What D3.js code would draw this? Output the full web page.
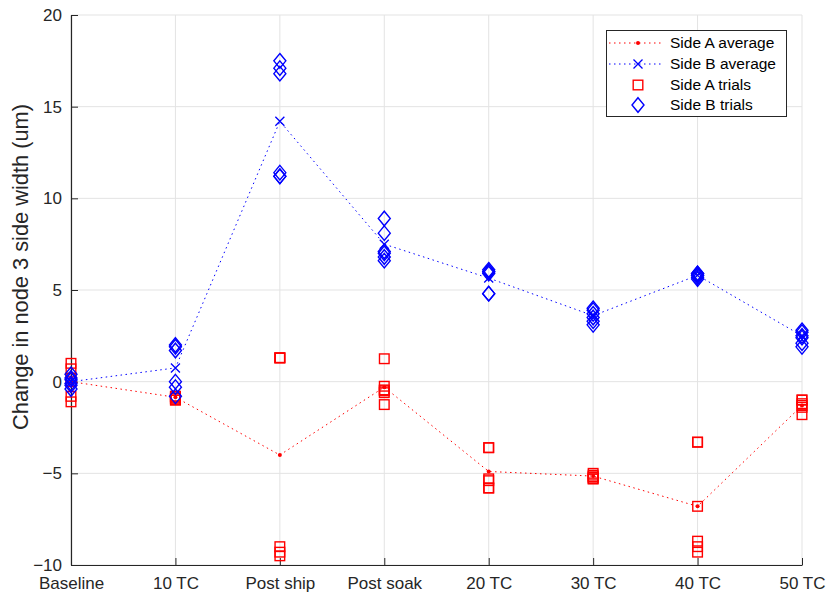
<!DOCTYPE html>
<html>
<head>
<meta charset="utf-8">
<script src="https://cdn.jsdelivr.net/npm/d3@7"></script>
<style>
  html, body { margin: 0; padding: 0; background: #fff; }
  svg { display: block; font-family: "Liberation Sans", Arial, Helvetica, sans-serif; }
</style>
</head>
<body>
<svg id="chart" width="829" height="596"></svg>
<script>
// Measurement stages along the x axis
const categories = ["Baseline", "10 TC", "Post ship", "Post soak", "20 TC", "30 TC", "40 TC", "50 TC"];

// Averages per stage (um)
const sideAAverage = [0, -0.85, -4.0, -0.3, -4.9, -5.15, -6.8, -1.3];
const sideBAverage = [0, 0.75, 14.2, 7.5, 5.65, 3.6, 5.8, 2.5];

// Individual trials per stage (um)
const sideATrials = [
  [1.0, 0.7, 0.2, 0.0, -0.8, -1.1],
  [-0.8, -0.8, -0.9, -0.9, -1.0, -1.0],
  [1.3, 1.3, 1.3, -9.0, -9.3, -9.5],
  [1.25, -0.25, -0.45, -0.5, -0.6, -1.25],
  [-3.6, -3.6, -5.3, -5.4, -5.8, -5.8],
  [-5.0, -5.1, -5.2, -5.2, -5.3, -5.3],
  [-3.3, -3.3, -6.8, -8.7, -9.0, -9.3],
  [-1.0, -1.0, -1.2, -1.3, -1.4, -1.8]
];
const sideBTrials = [
  [0.4, 0.2, 0.1, -0.1, -0.2, -0.4],
  [2.0, 1.9, 1.7, 0.0, -0.3, -0.8],
  [17.5, 17.1, 16.8, 11.4, 11.2, 11.2],
  [8.9, 8.1, 7.1, 7.0, 6.8, 6.6],
  [6.1, 6.0, 6.0, 5.9, 4.8, 4.8],
  [4.0, 3.9, 3.7, 3.5, 3.3, 3.1],
  [5.9, 5.9, 5.8, 5.8, 5.7, 5.6],
  [2.8, 2.7, 2.5, 2.4, 2.1, 1.9]
];

const yTicks = [-10, -5, 0, 5, 10, 15, 20];
const yLabel = "Change in node 3 side width (um)";
const legendItems = ["Side A average", "Side B average", "Side A trials", "Side B trials"];

const RED = "#ff0000", BLUE = "#0000ff", AXIS = "#262626", GRID = "#e3e3e3";
const plotLeft = 71, plotRight = 802, plotTop = 15, plotBottom = 565;

const svg = d3.select("#chart");
const x = d3.scalePoint().domain(categories).range([plotLeft, plotRight]);
const y = d3.scaleLinear().domain([-10, 20]).range([plotBottom, plotTop]);

// Grid
const grid = svg.append("g");
grid.selectAll("line.gx").data(categories).join("line")
  .attr("x1", d => x(d)).attr("x2", d => x(d))
  .attr("y1", plotTop).attr("y2", plotBottom)
  .attr("stroke", GRID).attr("stroke-width", 1);
grid.selectAll("line.gy").data(yTicks).join("line")
  .attr("x1", plotLeft).attr("x2", plotRight)
  .attr("y1", d => y(d)).attr("y2", d => y(d))
  .attr("stroke", GRID).attr("stroke-width", 1);

// Axes with inward ticks
const yAxis = svg.append("g").attr("transform", `translate(${plotLeft},0)`)
  .call(d3.axisLeft(y).tickValues(yTicks).tickSizeInner(-7).tickSizeOuter(0).tickPadding(9));
const xAxis = svg.append("g").attr("transform", `translate(0,${plotBottom})`)
  .call(d3.axisBottom(x).tickSizeInner(-7).tickSizeOuter(0).tickPadding(12));
[yAxis, xAxis].forEach(g => {
  g.select(".domain").attr("stroke", AXIS).attr("stroke-width", 1.2);
  g.selectAll(".tick line").attr("stroke", AXIS);
  g.selectAll(".tick text").attr("fill", AXIS).style("font-size", "17px");
});

// Y axis title
svg.append("text")
  .attr("transform", "translate(28,267) rotate(-90)")
  .attr("text-anchor", "middle")
  .attr("fill", AXIS)
  .style("font-size", "21.8px")
  .text(yLabel);

// Average lines
const line = d3.line().x((d, i) => x(categories[i])).y(d => y(d));
svg.append("path").datum(sideAAverage).attr("d", line)
  .attr("fill", "none").attr("stroke", RED).attr("stroke-width", 1)
  .attr("stroke-dasharray", "1.5 3.5");
svg.append("path").datum(sideBAverage).attr("d", line)
  .attr("fill", "none").attr("stroke", BLUE).attr("stroke-width", 1)
  .attr("stroke-dasharray", "1.5 3.5");

// Markers
function dot(g, cx, cy) {
  g.append("circle").attr("cx", cx).attr("cy", cy).attr("r", 2).attr("fill", RED);
}
function cross(g, cx, cy) {
  const s = 4.5;
  g.append("path")
    .attr("d", `M${cx - s},${cy - s}L${cx + s},${cy + s}M${cx - s},${cy + s}L${cx + s},${cy - s}`)
    .attr("stroke", BLUE).attr("stroke-width", 1.3).attr("fill", "none");
}
function square(g, cx, cy) {
  g.append("rect").attr("x", cx - 4.8).attr("y", cy - 4.8).attr("width", 9.6).attr("height", 9.6)
    .attr("fill", "none").attr("stroke", RED).attr("stroke-width", 1.4);
}
function diamond(g, cx, cy) {
  const w = 6, h = 7.3;
  g.append("path")
    .attr("d", `M${cx},${cy - h}L${cx + w},${cy}L${cx},${cy + h}L${cx - w},${cy}Z`)
    .attr("fill", "none").attr("stroke", BLUE).attr("stroke-width", 1.4);
}

const avgA = svg.append("g");
sideAAverage.forEach((v, i) => dot(avgA, x(categories[i]), y(v)));
const avgB = svg.append("g");
sideBAverage.forEach((v, i) => cross(avgB, x(categories[i]), y(v)));
const trialsA = svg.append("g");
sideATrials.forEach((vals, i) => vals.forEach(v => square(trialsA, x(categories[i]), y(v))));
const trialsB = svg.append("g");
sideBTrials.forEach((vals, i) => vals.forEach(v => diamond(trialsB, x(categories[i]), y(v))));

// Legend
const lg = svg.append("g");
lg.append("rect").attr("x", 606.5).attr("y", 30.5).attr("width", 180).attr("height", 86)
  .attr("fill", "#fff").attr("stroke", AXIS).attr("stroke-width", 1);
const rowY = [43, 64, 85, 105];
legendItems.forEach((t, i) => {
  const cy = rowY[i];
  if (i < 2) {
    lg.append("line").attr("x1", 609).attr("x2", 663).attr("y1", cy).attr("y2", cy)
      .attr("stroke", i === 0 ? RED : BLUE).attr("stroke-width", 1).attr("stroke-dasharray", "1.5 3.5");
  }
  if (i === 0) dot(lg, 638, cy);
  if (i === 1) cross(lg, 638, cy);
  if (i === 2) square(lg, 638, cy);
  if (i === 3) diamond(lg, 638, cy);
  lg.append("text").attr("x", 670).attr("y", cy).attr("dy", "0.35em")
    .attr("fill", "#000").style("font-size", "15.5px").text(t);
});
</script>
</body>
</html>
